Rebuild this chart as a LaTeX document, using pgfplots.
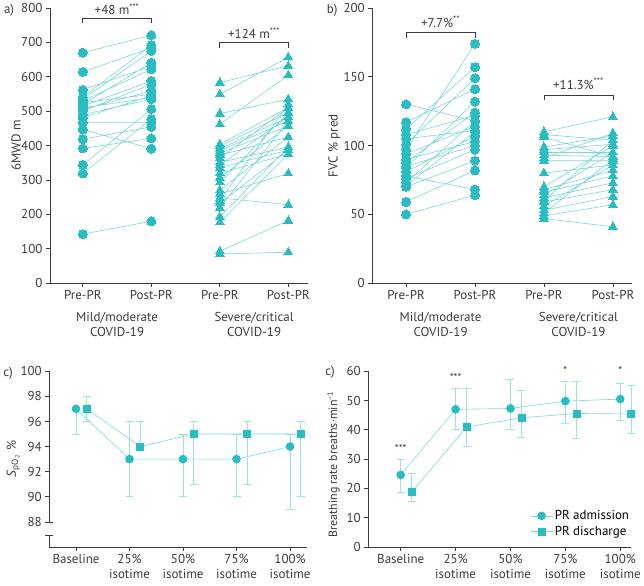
\documentclass[border=0pt]{standalone}
\usepackage{fontspec}
\setmainfont{PT Sans}
\usepackage{pgfplots}
\pgfplotsset{compat=1.18}
\definecolor{tealm}{RGB}{40,189,192}
\definecolor{teall}{RGB}{125,214,216}
\definecolor{tealerr}{RGB}{160,225,226}
\definecolor{axgray}{RGB}{60,60,60}
\begin{document}
\begin{tikzpicture}
\path (0pt,0pt) rectangle (644pt,586pt);
\pgfplotsset{
  base/.style={scale only axis, anchor=south west,
    axis x line*=bottom, axis y line*=left,
    axis line style={axgray, line width=0.8pt},
    tick style={axgray, line width=0.8pt},
    tick align=outside, major tick length=4pt,
    ticklabel style={font=\fontsize{13}{15}\selectfont, text=axgray},
    label style={font=\fontsize{13}{15}\selectfont, text=axgray},
    /pgf/number format/assume math mode=true,
    clip=false},
  pairline/.style={teall, line width=0.6pt, unbounded coords=jump,
    mark options={draw=tealm, fill=tealm, line width=0pt}},
  ylab/.style={every axis y label/.style={at={([xshift=#1]axis description cs:0,0.5)}, rotate=90, anchor=center, font=\fontsize{13}{15}\selectfont, text=axgray}},
  ebar/.style={error bars/.cd, y dir=both, y explicit,
    error bar style={tealerr, line width=0.8pt},
    error mark options={tealerr, rotate=90, mark size=4pt, line width=0.8pt}},
}
\tikzset{annot/.style={font=\fontsize{13}{15}\selectfont, text=axgray}}

% ---------------- panel a ----------------
\begin{axis}[base, at={(50pt,303.3pt)}, width=259pt, height=276pt,
  xmin=-0.48, xmax=3.29, ymin=0, ymax=800,
  ytick={0,100,...,800},
  xtick={0,1,2,3}, xticklabels={Pre-PR,Post-PR,Pre-PR,Post-PR},
  ylab=-34pt, ylabel={6MWD m}]
\addplot[pairline, mark=*, mark size=4.5pt] coordinates {
(0,670) (1,721) (0,nan)
(0,614) (1,684) (0,nan)
(0,562) (1,631) (0,nan)
(0,541) (1,692) (0,nan)
(0,535) (1,675) (0,nan)
(0,530) (1,622) (0,nan)
(0,525) (1,549) (0,nan)
(0,520) (1,641) (0,nan)
(0,515) (1,588) (0,nan)
(0,510) (1,539) (0,nan)
(0,505) (1,559) (0,nan)
(0,501) (1,578) (0,nan)
(0,490) (1,535) (0,nan)
(0,481) (1,545) (0,nan)
(0,467) (1,467) (0,nan)
(0,447) (1,391) (0,nan)
(0,419) (1,454) (0,nan)
(0,392) (1,421) (0,nan)
(0,344) (1,506) (0,nan)
(0,319) (1,477) (0,nan)
(0,143) (1,180)
};
\addplot[pairline, mark=triangle*, mark size=5pt] coordinates {
(2,583) (3,632) (2,nan)
(2,549) (3,657) (2,nan)
(2,493) (3,535) (2,nan)
(2,462) (3,605) (2,nan)
(2,404) (3,510) (2,nan)
(2,398) (3,496) (2,nan)
(2,390) (3,483) (2,nan)
(2,385) (3,472) (2,nan)
(2,378) (3,457) (2,nan)
(2,372) (3,425) (2,nan)
(2,364) (3,510) (2,nan)
(2,351) (3,396) (2,nan)
(2,344) (3,483) (2,nan)
(2,336) (3,387) (2,nan)
(2,320) (3,375) (2,nan)
(2,307) (3,457) (2,nan)
(2,293) (3,496) (2,nan)
(2,270) (3,425) (2,nan)
(2,259) (3,319) (2,nan)
(2,248) (3,228) (2,nan)
(2,240) (3,520) (2,nan)
(2,232) (3,387) (2,nan)
(2,220) (3,472) (2,nan)
(2,193) (3,396) (2,nan)
(2,177) (3,375) (2,nan)
(2,93) (3,182) (2,nan)
(2,85) (3,90)
};
\draw[axgray, line width=0.8pt] (axis cs:0,757) -- (axis cs:0,771) -- (axis cs:1,771) -- (axis cs:1,757);
\node[annot] at (axis cs:0.5,797) {+48 m\textsuperscript{***}};
\draw[axgray, line width=0.8pt] (axis cs:2,685) -- (axis cs:2,699) -- (axis cs:3,699) -- (axis cs:3,685);
\node[annot] at (axis cs:2.5,726) {+124 m\textsuperscript{***}};
\node[annot, align=center] at (axis cs:0.5,0) [yshift=-41.5pt] {Mild/moderate\\COVID-19};
\node[annot, align=center] at (axis cs:2.5,0) [yshift=-41.5pt] {Severe/critical\\COVID-19};
\end{axis}

% ---------------- panel b ----------------
\begin{axis}[base, at={(373.3pt,303.3pt)}, width=260pt, height=276pt,
  xmin=-0.49, xmax=3.27, ymin=0, ymax=200,
  ytick={0,50,...,200},
  xtick={0,1,2,3}, xticklabels={Pre-PR,Post-PR,Pre-PR,Post-PR},
  ylab=-38pt, ylabel={FVC \% pred}]
\addplot[pairline, mark=*, mark size=4.5pt] coordinates {
(0,130) (1,118) (0,nan)
(0,117) (1,141) (0,nan)
(0,112) (1,157) (0,nan)
(0,108) (1,122) (0,nan)
(0,105) (1,111) (0,nan)
(0,101) (1,149) (0,nan)
(0,97) (1,174) (0,nan)
(0,94) (1,114) (0,nan)
(0,90) (1,103) (0,nan)
(0,88) (1,124) (0,nan)
(0,85) (1,100) (0,nan)
(0,84) (1,132) (0,nan)
(0,81) (1,107) (0,nan)
(0,78) (1,68) (0,nan)
(0,76) (1,97) (0,nan)
(0,73) (1,118) (0,nan)
(0,71) (1,110) (0,nan)
(0,70) (1,89) (0,nan)
(0,59) (1,82) (0,nan)
(0,50) (1,64)
};
\addplot[pairline, mark=triangle*, mark size=5pt] coordinates {
(2,110) (3,121) (2,nan)
(2,108) (3,104) (2,nan)
(2,106) (3,92) (2,nan)
(2,99) (3,107) (2,nan)
(2,97) (3,101) (2,nan)
(2,95) (3,95) (2,nan)
(2,93) (3,92) (2,nan)
(2,91) (3,109) (2,nan)
(2,89) (3,89) (2,nan)
(2,80) (3,86) (2,nan)
(2,70) (3,100) (2,nan)
(2,68) (3,82) (2,nan)
(2,66) (3,78) (2,nan)
(2,64) (3,95) (2,nan)
(2,62) (3,73) (2,nan)
(2,60) (3,104) (2,nan)
(2,59) (3,68) (2,nan)
(2,56) (3,86) (2,nan)
(2,53) (3,63) (2,nan)
(2,51) (3,90) (2,nan)
(2,49) (3,57) (2,nan)
(2,47) (3,41)
};
\draw[axgray, line width=0.8pt] (axis cs:0,178.4) -- (axis cs:0,182) -- (axis cs:1,182) -- (axis cs:1,178.4);
\node[annot] at (axis cs:0.5,190) {+7.7\%\textsuperscript{**}};
\draw[axgray, line width=0.8pt] (axis cs:2,133.1) -- (axis cs:2,136.7) -- (axis cs:3,136.7) -- (axis cs:3,133.1);
\node[annot] at (axis cs:2.5,145) {+11.3\%\textsuperscript{***}};
\node[annot, align=center] at (axis cs:0.5,0) [yshift=-41.5pt] {Mild/moderate\\COVID-19};
\node[annot, align=center] at (axis cs:2.5,0) [yshift=-41.5pt] {Severe/critical\\COVID-19};
\end{axis}

% ---------------- panel c (SpO2) ----------------
\begin{axis}[base, at={(49.3pt,38.7pt)}, width=258.7pt, height=176.3pt,
  xmin=-0.5, xmax=4.32, ymin=86, ymax=100,
  ytick={88,90,...,100},
  y axis line style={draw=none},
  xtick={0,1,2,3,4},
  xticklabels={Baseline,{25\%\\isotime},{50\%\\isotime},{75\%\\isotime},{100\%\\isotime}},
  xticklabel style={align=center},
  ylab=-36pt, ylabel={\textit{S}\textsubscript{pO\textsubscript{2}} \%}]
\addplot[teall, line width=0.6pt, mark=*, mark size=4pt,
  mark options={draw=tealm, fill=tealm}, ebar]
coordinates {
(0,97) += (0,0) -= (0,2)
(1,93) += (0,3) -= (0,3)
(2,93) += (0,2) -= (0,3)
(3,93) += (0,2) -= (0,3)
(4,94) += (0,1) -= (0,5)
};
\addplot[teall, line width=0.6pt, mark=square*, mark size=3.5pt,
  mark options={draw=tealm, fill=tealm}, ebar]
coordinates {
(0.2,97) += (0,1) -= (0,1)
(1.2,94) += (0,2) -= (0,0)
(2.2,95) += (0,1) -= (0,4)
(3.2,95) += (0,1) -= (0,4)
(4.2,95) += (0,1) -= (0,5)
};
\draw[axgray, line width=0.8pt] (axis cs:-0.5,100) -- (axis cs:-0.5,88);
\draw[axgray, line width=0.8pt] (axis cs:-0.5,88) ++(-4pt,0pt) -- ++(8pt,0pt);
\draw[axgray, line width=0.8pt] (axis cs:-0.5,86.9) ++(-4pt,0pt) -- ++(8pt,0pt);
\draw[axgray, line width=0.8pt] (axis cs:-0.5,86.9) -- (axis cs:-0.5,86);
\end{axis}

% ---------------- panel d (breathing rate) ----------------
\begin{axis}[base, at={(369.3pt,38.7pt)}, width=263.7pt, height=176.3pt,
  xmin=-0.59, xmax=4.2, ymin=0, ymax=60,
  ytick={0,10,...,60},
  xtick={0,1,2,3,4},
  xticklabels={Baseline,{25\%\\isotime},{50\%\\isotime},{75\%\\isotime},{100\%\\isotime}},
  xticklabel style={align=center},
  every axis y label/.style={at={([xshift=-35pt]axis description cs:0,0.47)}, rotate=90, anchor=center, font=\fontsize{12}{14}\selectfont, text=axgray},
  ylabel={Breathing rate breaths·min\textsuperscript{−1}},
  legend style={draw=none, fill=none, font=\fontsize{13}{15}\selectfont,
    at={(axis description cs:1,0)}, anchor=south east, yshift=8pt,
    row sep=1pt, inner sep=0pt},
  legend cell align=left,
  legend image code/.code={\draw[#1, mark repeat=2, mark phase=2] plot coordinates {(0pt,0pt) (11pt,0pt) (22pt,0pt)};}]
\addplot[teall, line width=0.6pt, mark=*, mark size=4pt,
  mark options={draw=tealm, fill=tealm}, ebar]
coordinates {
(0,24.6) += (0,5.4) -= (0,5.9)
(1,47.0) += (0,7.2) -= (0,6.8)
(2,47.3) += (0,9.9) -= (0,7.1)
(3,49.8) += (0,6.9) -= (0,7.7)
(4,50.5) += (0,5.3) -= (0,7.2)
};
\addlegendentry{PR admission}
\addplot[teall, line width=0.6pt, mark=square*, mark size=3.5pt,
  mark options={draw=tealm, fill=tealm}, ebar]
coordinates {
(0.2,18.7) += (0,6.4) -= (0,3.2)
(1.2,41.0) += (0,13.2) -= (0,6.8)
(2.2,44.1) += (0,9.2) -= (0,6.6)
(3.2,45.6) += (0,11.1) -= (0,8.5)
(4.2,45.4) += (0,9.7) -= (0,6.6)
};
\addlegendentry{PR discharge}
\node[annot, font=\fontsize{11}{13}\selectfont] at (axis cs:0,33.5) {***};
\node[annot, font=\fontsize{11}{13}\selectfont] at (axis cs:1,57.8) {***};
\node[annot, font=\fontsize{11}{13}\selectfont] at (axis cs:3,60.2) {*};
\node[annot, font=\fontsize{11}{13}\selectfont] at (axis cs:4,60.2) {*};
\end{axis}

% panel letters
\node[annot] at (9pt,577pt) {a)};
\node[annot] at (333pt,577pt) {b)};
\node[annot] at (8pt,213pt) {c)};
\node[annot] at (331pt,214pt) {c)};
\end{tikzpicture}
\end{document}
